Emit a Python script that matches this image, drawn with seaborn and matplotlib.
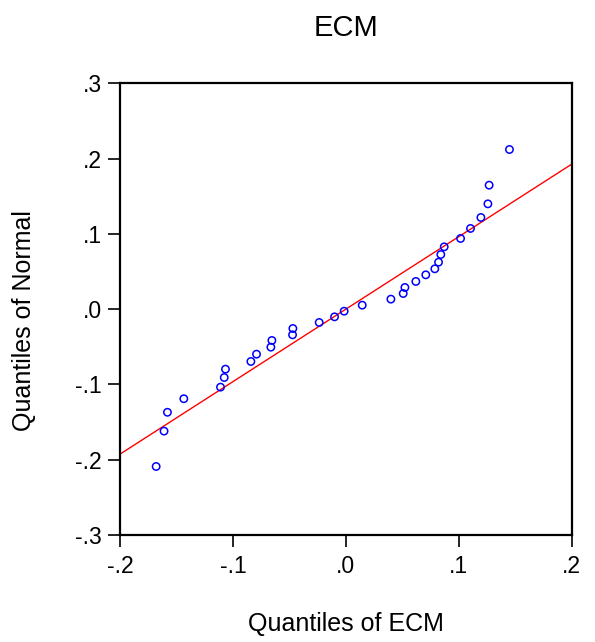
import matplotlib
matplotlib.use("Agg")
import matplotlib.pyplot as plt
import seaborn as sns
import numpy as np
import pandas as pd

# Data
ecm_quantiles = [-0.168, -0.161, -0.158, -0.1435, -0.111, -0.1077, -0.1066, -0.0841,
                 -0.0791, -0.0664, -0.0655, -0.0472, -0.0469, -0.0236, -0.0100, -0.0015,
                 0.0145, 0.0399, 0.0508, 0.0523, 0.0620, 0.0708, 0.0788, 0.0821,
                 0.0841, 0.0871, 0.1016, 0.1104, 0.1196, 0.1258, 0.1269, 0.1449]
normal_quantiles = [-0.209, -0.162, -0.137, -0.119, -0.1036, -0.0908, -0.0797, -0.0695,
                    -0.0598, -0.0505, -0.0416, -0.0341, -0.0257, -0.0177, -0.0102, -0.0027,
                    0.0053, 0.0133, 0.0208, 0.0288, 0.0368, 0.0456, 0.0536, 0.0624,
                    0.0726, 0.0828, 0.0939, 0.1072, 0.1218, 0.1399, 0.1647, 0.2121]
ref_slope = 0.963
ref_intercept = 0.0

x_ticks = [-0.2, -0.1, 0.0, 0.1, 0.2]
x_tick_labels = ["-.2", "-.1", ".0", ".1", ".2"]
y_ticks = [-0.3, -0.2, -0.1, 0.0, 0.1, 0.2, 0.3]
y_tick_labels = ["-.3", "-.2", "-.1", ".0", ".1", ".2", ".3"]

title = "ECM"
x_label = "Quantiles of ECM"
y_label = "Quantiles of Normal"

sns.set_style("white")
plt.rcParams["font.family"] = ["Liberation Sans", "DejaVu Sans"]
plt.rcParams["text.color"] = "black"

fig = plt.figure(figsize=(5.95, 6.42), dpi=100)
ax = fig.add_axes([0.2017, 0.1667, 0.7591, 0.7035])

df = pd.DataFrame({"ecm": ecm_quantiles, "normal": normal_quantiles})
xlim = (x_ticks[0], x_ticks[-1])
line_df = pd.DataFrame({"x": list(xlim)})
line_df["y"] = ref_intercept + ref_slope * line_df["x"]

sns.lineplot(data=line_df, x="x", y="y", ax=ax, color="#ff0000", linewidth=1.0, zorder=2)
sns.scatterplot(data=df, x="ecm", y="normal", ax=ax, marker="o", s=28,
                facecolor="none", edgecolor="#0000ff", linewidth=1.1, zorder=3)

ax.set_xlim(*xlim)
ax.set_ylim(y_ticks[0], y_ticks[-1])
ax.set_xticks(x_ticks)
ax.set_xticklabels(x_tick_labels)
ax.set_yticks(y_ticks)
ax.set_yticklabels(y_tick_labels)
ax.tick_params(axis="both", which="both", direction="out", length=8.5, width=1.2,
               color="black", labelsize=16.5, bottom=True, left=True,
               top=False, right=False, labelcolor="black")
ax.tick_params(axis="x", pad=6)
ax.tick_params(axis="y", pad=4.5)
for sp in ax.spines.values():
    sp.set_visible(True)
    sp.set_color("black")
    sp.set_linewidth(1.6)

ax.set_xlabel("")
ax.set_ylabel("")
fig.text(0.5815, 1 - 28 / 642, title, ha="center", va="center", fontsize=21, color="black")
fig.text(0.5815, 1 - 624 / 642, x_label, ha="center", va="center", fontsize=18, color="black")
fig.text(24 / 595, 0.5, y_label, ha="center", va="center", rotation=90, fontsize=18,
         color="black")

fig.savefig("out.png", dpi=100, facecolor="white")
